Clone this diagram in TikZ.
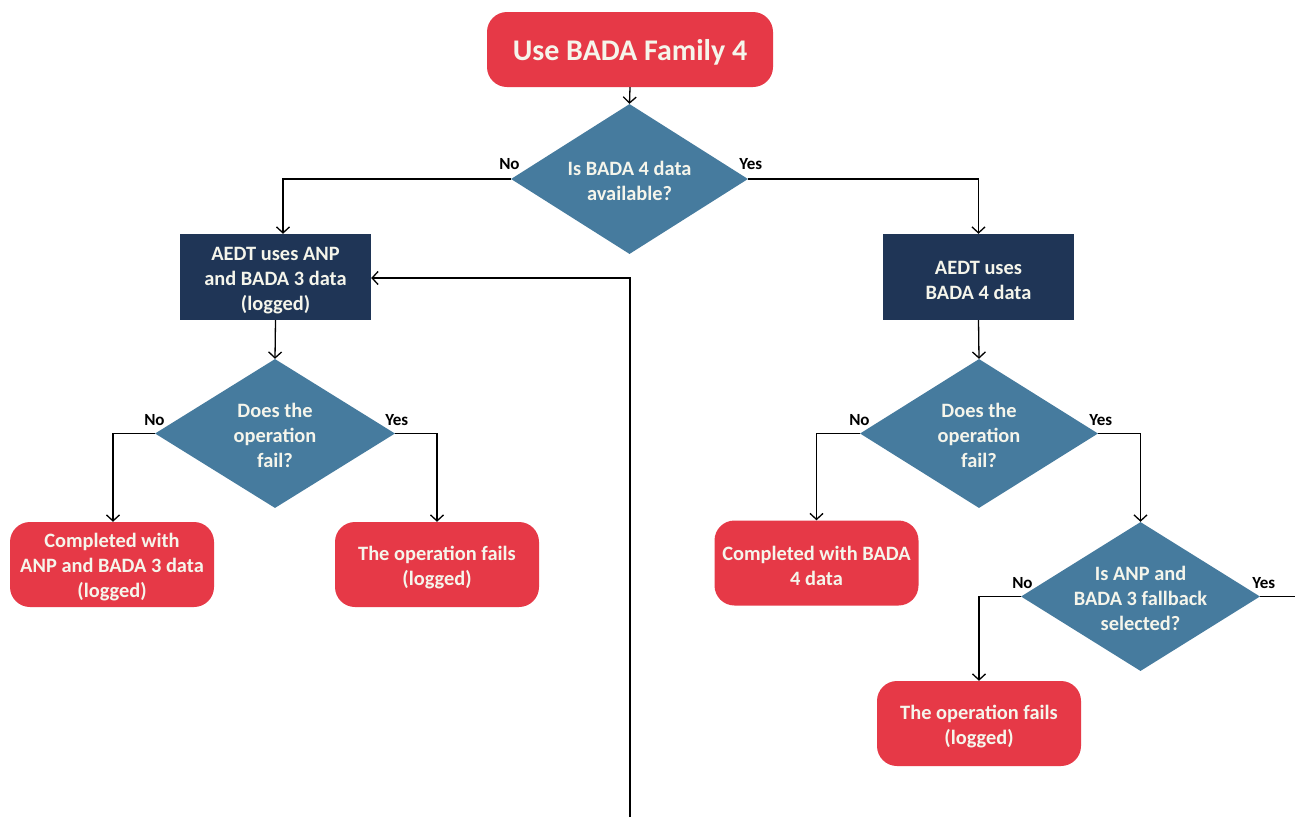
\documentclass[tikz,border=0pt]{standalone}
\usepackage{fontspec}
\setmainfont{Carlito}
\usetikzlibrary{shapes.geometric,arrows.meta}
\definecolor{cred}{RGB}{230,57,71}
\definecolor{cnavy}{RGB}{31,53,86}
\definecolor{cblue}{RGB}{70,123,158}
\definecolor{ctext}{RGB}{245,245,235}
\begin{document}
\begin{tikzpicture}[x=1pt,y=-1pt,
  bodyfont/.style={font=\fontsize{20.4}{25}\selectfont\bfseries},
  redbox/.style={rectangle, rounded corners=20pt, fill=cred, minimum width=204pt, minimum height=85pt, inner sep=0pt},
  navybox/.style={rectangle, fill=cnavy, minimum width=191pt, minimum height=86pt, inner sep=0pt},
  dia/.style={diamond, fill=cblue, minimum width=238pt, minimum height=150pt, inner sep=0pt},
  intext/.style={text=ctext, bodyfont, align=center, inner sep=0pt},
  lbl/.style={font=\fontsize{17}{20}\selectfont\bfseries, text=black, inner sep=0pt},
  arr/.style={draw=black, line width=1.3pt, -{Straight Barb[length=6pt,width=13pt]}},
  ln/.style={draw=black, line width=1.3pt}]
\useasboundingbox[fill=white] (0,0) rectangle (1295,817);

% shapes
\node[redbox, minimum width=286pt, minimum height=75pt] (start) at (630,49.5) {};
\node[dia, minimum width=237pt] (d1) at (629.5,179) {};
\node[navybox] (l1) at (275.5,277) {};
\node[navybox] (r1) at (978.5,277) {};
\node[dia, minimum width=240pt, minimum height=149pt] (l2) at (275,433.5) {};
\node[dia, minimum width=238pt, minimum height=149pt] (r2) at (979,433.5) {};
\node[redbox] (l3) at (112,564.5) {};
\node[redbox] (l4) at (437,564.5) {};
\node[redbox] (r3) at (816.5,563) {};
\node[dia, minimum width=239pt, minimum height=149pt] (r4) at (1140.5,596.5) {};
\node[redbox] (r5) at (979,723.5) {};

% texts
\node[intext, font=\fontsize{30}{36}\selectfont\bfseries] (tstart) at ([yshift=-2.5pt]start) {Use BADA Family 4};
\node[intext] (td1) at ([yshift=-1.5pt]d1) {Is BADA 4 data\\available?};
\node[intext] (tl1) at ([yshift=-3.5pt]l1) {AEDT uses ANP\\and BADA 3 data\\(logged)};
\node[intext] (tr1) at ([yshift=-3pt]r1) {AEDT uses\\BADA 4 data};
\node[intext] (tl2) at ([yshift=-2pt]l2) {Does the\\operation\\fail?};
\node[intext] (tr2) at ([yshift=-2pt]r2) {Does the\\operation\\fail?};
\node[intext] (tl3) at ([yshift=-3pt]l3) {Completed with\\ANP and BADA 3 data\\(logged)};
\node[intext] (tl4) at ([yshift=-3pt]l4) {The operation fails\\(logged)};
\node[intext] (tr3) at ([yshift=-3pt]r3) {Completed with BADA\\4 data};
\node[intext] (tr4) at ([yshift=-2pt]r4) {Is ANP and\\BADA 3 fallback\\selected?};
\node[intext] (tr5) at ([yshift=-3pt]r5) {The operation fails\\(logged)};

% labels
\node[lbl, anchor=base east] (n1) at ([xshift=9pt,yshift=10pt]d1.west) {No};
\node[lbl, anchor=base west] (y1) at ([xshift=-9pt,yshift=10pt]d1.east) {Yes};
\node[lbl, anchor=base east] (n2) at ([xshift=10pt,yshift=8pt]l2.west) {No};
\node[lbl, anchor=base west] (y2) at ([xshift=-10pt,yshift=8pt]l2.east) {Yes};
\node[lbl, anchor=base east] (n3) at ([xshift=10pt,yshift=8pt]r2.west) {No};
\node[lbl, anchor=base west] (y3) at ([xshift=-9pt,yshift=8pt]r2.east) {Yes};
\node[lbl, anchor=base east] (n4) at ([xshift=12pt,yshift=8pt]r4.west) {No};
\node[lbl, anchor=base west] (y4) at ([xshift=-8pt,yshift=8pt]r4.east) {Yes};

% connectors
\draw[arr] (start.south) -- (d1.north);
\draw[arr] (d1.west) -| ([xshift=7.5pt]l1.north);
\draw[arr] (d1.east) -| (r1.north);
\draw[arr] (l1.south) -- (l2.north);
\draw[arr] (l2.west) -| ([xshift=1pt]l3.north);
\draw[arr] (l2.east) -| (l4.north);
\draw[arr] (r1.south) -- (r2.north);
\draw[arr] (r2.west) -| (r3.north);
\draw[arr] (r2.east) -| (r4.north);
\draw[arr] (r4.west) -| (r5.north);
\coordinate (offr) at (1295,596.5);
\draw[ln] (r4.east) -- (offr);
\coordinate (loopb) at (630,817);
\draw[arr] (loopb) |- ([yshift=-1pt]l1.east);
\end{tikzpicture}
\end{document}
